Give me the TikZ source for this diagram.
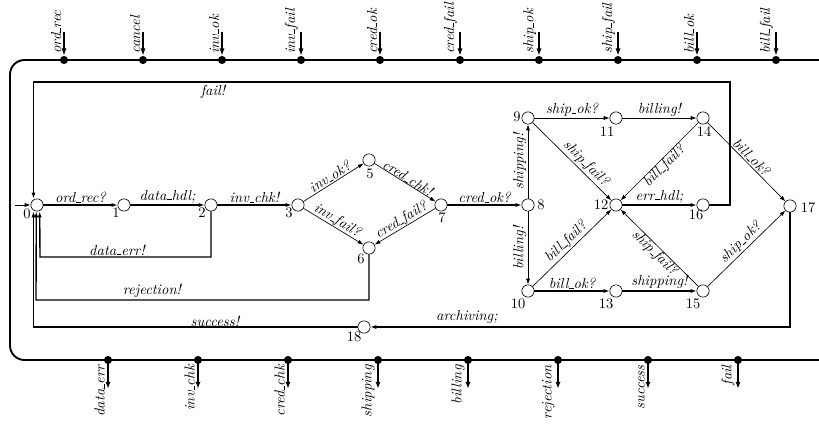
\documentclass[tikz,border=0pt]{standalone}
\usetikzlibrary{arrows.meta,calc}
\newcommand{\usc}{\leavevmode\kern.06em\vbox{\hrule height 0.55pt width.3em}}
\begin{document}
\begin{tikzpicture}[x=0.69pt,y=-0.69pt,
  st/.style={circle,draw,line width=0.45pt,minimum size=8.5pt,inner sep=0pt,fill=white},
  chdot/.style={circle,fill=black,minimum size=5.6pt,inner sep=0pt},
  num/.style={inner sep=0pt},
  lab/.style={font=\itshape,inner sep=1pt},
  tk/.style={line width=0.95pt,-{Latex[length=4pt,width=2.8pt]}},
  tn/.style={line width=0.45pt,-{Latex[length=4pt,width=2.8pt]}},
  frameline/.style={line width=1.3pt},
  chan/.style={line width=1.2pt,-{Latex[length=5pt,width=3.6pt]}}]
\useasboundingbox (0,0) rectangle (819,424);
% outer frame
\draw[frameline,rounded corners=10] (822,60) -- (10,60) -- (10,360) -- (822,360);
% top channels
\foreach \x/\t [count=\i] in {64/ord\usc rec,143/cancel,222/inv\usc ok,301/inv\usc fail,380/cred\usc ok,460/cred\usc fail,539/ship\usc ok,618/ship\usc fail,697/bill\usc ok,776/bill\usc fail}{
  \node[chdot] (td\i) at (\x,60) {};
  \coordinate (ts\i) at (\x,32);
  \draw[chan] (ts\i) -- (td\i);
  \node[lab,rotate=90,anchor=south west,inner sep=0pt] (tl\i) at (\x-2.5,54) {\t};
}
% bottom channels
\foreach \x/\t [count=\i] in {108/data\usc err,198/inv\usc chk,288/cred\usc chk,378/shipping,468/billing,558/rejection,648/success,738/fail}{
  \node[chdot] (bd\i) at (\x,360) {};
  \coordinate (be\i) at (\x,389);
  \draw[chan] (bd\i) -- (be\i);
  \node[lab,rotate=90,anchor=south east,inner sep=0pt] (bl\i) at (\x-3,365) {\t};
}
% states
\node[st] (n0) at (37,205) {};
\node[st] (n1) at (124,205) {};
\node[st] (n2) at (211,205) {};
\node[st] (n3) at (298,205) {};
\node[st] (n5) at (369,160) {};
\node[st] (n6) at (369,248) {};
\node[st] (n7) at (441,205) {};
\node[st] (n8) at (528,205) {};
\node[st] (n9) at (528,118) {};
\node[st] (n11) at (616,118) {};
\node[st] (n14) at (703,118) {};
\node[st] (n12) at (616,205) {};
\node[st] (n16) at (703,205) {};
\node[st] (n17) at (790,206) {};
\node[st] (n10) at (528,291) {};
\node[st] (n13) at (616,291) {};
\node[st] (n15) at (703,291) {};
\node[st] (n18) at (364,327) {};
% state numbers
\node[num] (l0) at (27,214) {0};
\node[num] (l1) at (116,213) {1};
\node[num] (l2) at (202,213) {2};
\node[num] (l3) at (289,213) {3};
\node[num] (l5) at (370,174) {5};
\node[num] (l6) at (361,259) {6};
\node[num] (l7) at (442,218) {7};
\node[num] (l8) at (541,205) {8};
\node[num] (l9) at (517,117) {9};
\node[num] (l11) at (607,132) {11};
\node[num] (l14) at (704,132) {14};
\node[num] (l12) at (601,205) {12};
\node[num] (l16) at (696,215) {16};
\node[num] (l17) at (808,208) {17};
\node[num] (l10) at (518,304) {10};
\node[num] (l13) at (606,304) {13};
\node[num] (l15) at (693,304) {15};
\node[num] (l18) at (354,337) {18};
% initial
\coordinate (init) at (15,205);
\draw[tn] (init) -- (n0);
% edges
\draw[tk] (n0) -- node[lab,above]{ord\usc rec?} (n1);
\draw[tk] (n1) -- node[lab,above]{data\usc hdl;} (n2);
\draw[tk] (n2) -- node[lab,above]{inv\usc chk!} (n3);
\draw[tn] (n3) -- node[lab,sloped,above]{inv\usc ok?} (n5);
\draw[tn] (n3) -- node[lab,sloped,above,inner sep=0pt]{inv\usc fail?} (n6);
\draw[tn] (n5) -- node[lab,sloped,above,inner sep=0pt]{cred\usc chk!} (n7);
\draw[tn] (n7) -- node[lab,sloped,above,inner sep=0pt]{cred\usc fail?} (n6);
\draw[tk] (n7) -- node[lab,above]{cred\usc ok?} (n8);
\draw[tn] (n8) -- node[lab,midway,rotate=90,anchor=south]{shipping!} (n9);
\draw[tn] (n8) -- node[lab,midway,rotate=90,anchor=south]{billing!} (n10);
\draw[tn] (n9) -- node[lab,above]{ship\usc ok?} (n11);
\draw[tn] (n11) -- node[lab,above]{billing!} (n14);
\draw[tn] (n9) -- node[lab,sloped,above,pos=0.6]{ship\usc fail?} (n12);
\draw[tn] (n14) -- node[lab,sloped,below,inner sep=0pt]{bill\usc fail?} (n12);
\draw[tn] (n14) -- node[lab,sloped,above]{bill\usc ok?} (n17);
\draw[tk] (n12) -- node[lab,above]{err\usc hdl;} (n16);
\draw[tn] (n10) -- node[lab,sloped,above]{bill\usc fail?} (n12);
\draw[tk] (n10) -- node[lab,above]{bill\usc ok?} (n13);
\draw[tk] (n13) -- node[lab,above]{shipping!} (n15);
\draw[tn] (n15) -- node[lab,sloped,below,inner sep=0pt]{ship\usc fail?} (n12);
\draw[tn] (n15) -- node[lab,sloped,above]{ship\usc ok?} (n17);
% routed edges
\draw[tk] (n16) -| (730,82) -| ($(n0.north)+(-3.5,0)$);
\node[lab] (failL) at (213,92) {fail!};
\draw[tk] (n2) |- (40,257) -- ($(n0.south)+(2.7,0)$);
\node[lab] (derrL) at (117,250) {data\usc err!};
\draw[tk] (n6) |- (36,300) -- ($(n0.south)+(-0.7,0)$);
\node[lab] (rejL) at (152,291) {rejection!};
\draw[tk] (n17) |- (n18);
\node[lab] (archL) at (467,317) {archiving;};
\draw[tk] (n18) -| ($(n0.south)+(-3.5,0)$);
\node[lab] (succL) at (215,321) {success!};
\end{tikzpicture}
\end{document}
